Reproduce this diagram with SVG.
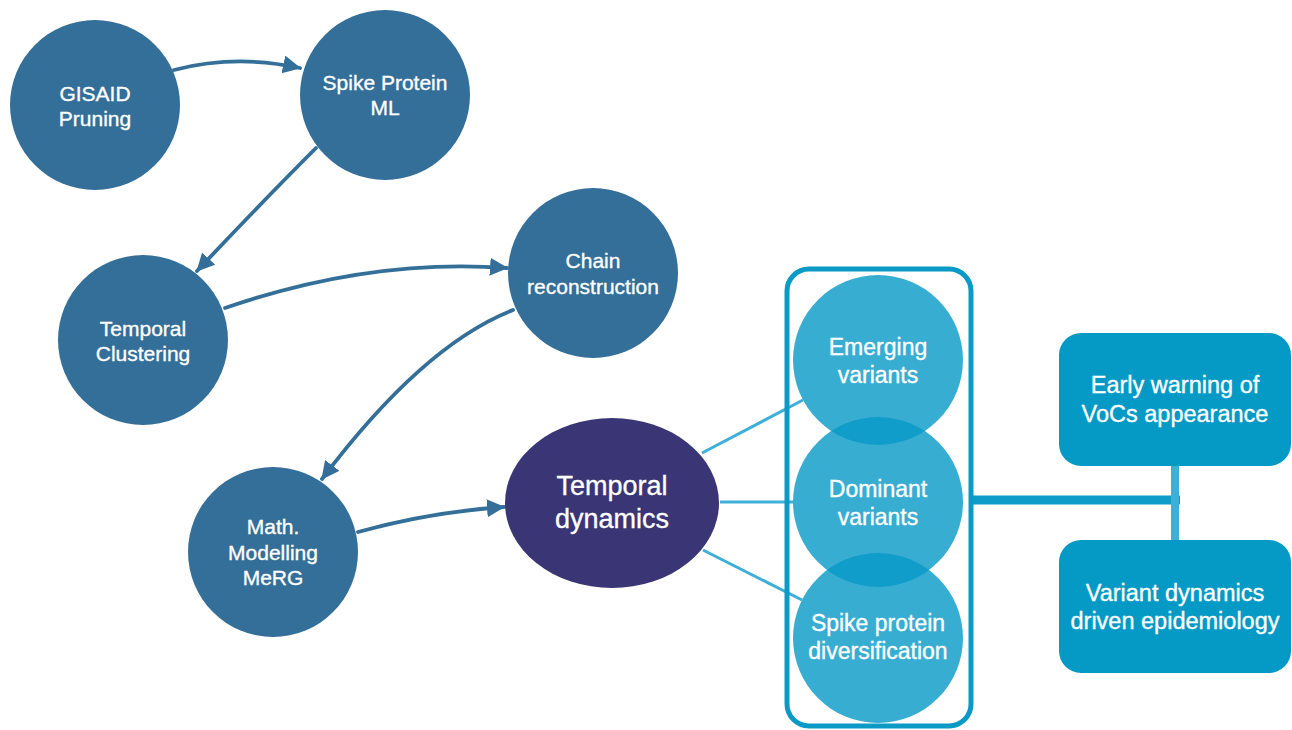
<svg xmlns="http://www.w3.org/2000/svg" width="1292" height="730" viewBox="0 0 1292 730">
<defs>
<style>
.n{fill:#336f98}
.t{fill:#fff;stroke:#fff;stroke-width:0.35;font-family:"Liberation Sans",Arial,sans-serif;text-anchor:middle}
.s21{font-size:21px}
.s23{font-size:23px}
.s24{font-size:23.5px}
.s27{font-size:27px}
.v{fill:#0698c7;fill-opacity:0.8}
.b{fill:#059ac5}
.a{fill:none;stroke:#336f98;stroke-width:3.8;stroke-linecap:round;marker-end:url(#ah)}
.l{fill:none;stroke:#3eafd7;stroke-width:3}
</style>
<marker id="ah" markerUnits="userSpaceOnUse" markerWidth="22" markerHeight="20" refX="17" refY="9" orient="auto">
<path d="M0,0 L18,9 L0,18 Z" fill="#336f98"/>
</marker>
</defs>
<rect width="1292" height="730" fill="#fff"/>
<g id="connectors">
<path class="a" d="M174,70 Q236,54 300,68"/>
<path class="a" d="M316,148 Q262,202 197,271"/>
<path class="a" d="M225,308 Q370,258 507,268"/>
<path class="a" d="M513,310 Q423,345 322,479"/>
<path class="a" d="M358,532 Q430,512 504,507"/>
<path class="l" d="M702,453 L803,400"/>
<path class="l" d="M720,502 L793,502"/>
<path class="l" d="M703,550 L802,600"/>
<path d="M973,500 H1180" stroke="#109cc8" stroke-width="9" fill="none"/>
<path d="M1175,466 V540" stroke="#3cb0d6" stroke-width="8" fill="none"/>
</g>
<g id="gisaid"><circle class="n" cx="95" cy="105" r="85"/>
<text class="t s21" x="95" y="101">GISAID</text><text class="t s21" x="95" y="126">Pruning</text></g>
<g id="spike-ml"><circle class="n" cx="385" cy="95" r="85"/>
<text class="t s21" x="385" y="90">Spike Protein</text><text class="t s21" x="385" y="115">ML</text></g>
<g id="temporal-clustering"><circle class="n" cx="143" cy="340" r="85"/>
<text class="t s21" x="143" y="336">Temporal</text><text class="t s21" x="143" y="361">Clustering</text></g>
<g id="chain"><circle class="n" cx="593" cy="273" r="85"/>
<text class="t s21" x="593" y="268">Chain</text><text class="t s21" x="593" y="294">reconstruction</text></g>
<g id="math"><circle class="n" cx="273" cy="552" r="85"/>
<text class="t s21" x="273" y="534">Math.</text><text class="t s21" x="273" y="560">Modelling</text><text class="t s21" x="273" y="585">MeRG</text></g>
<g id="temporal-dynamics"><ellipse cx="612" cy="503" rx="107" ry="85" fill="#3a3574"/>
<text class="t s27" x="612" y="495">Temporal</text><text class="t s27" x="612" y="528">dynamics</text></g>
<g id="variants">
<circle class="v" cx="878" cy="360" r="85"/>
<circle class="v" cx="878" cy="502" r="85"/>
<circle class="v" cx="878" cy="638" r="85"/>
<rect x="787" y="269" width="184" height="457" rx="22" fill="none" stroke="#0b9ac6" stroke-width="5"/>
</g>
<g id="emerging"><text class="t s23" x="878" y="355">Emerging</text><text class="t s23" x="878" y="383">variants</text></g>
<g id="dominant"><text class="t s23" x="878" y="497">Dominant</text><text class="t s23" x="878" y="525">variants</text></g>
<g id="spike-div"><text class="t s23" x="878" y="631">Spike protein</text><text class="t s23" x="878" y="659">diversification</text></g>
<g id="early-warning"><rect class="b" x="1059" y="333" width="232" height="133" rx="22"/>
<text class="t s24" x="1175" y="393">Early warning of</text><text class="t s24" x="1175" y="422">VoCs appearance</text></g>
<g id="variant-dynamics"><rect class="b" x="1059" y="540" width="232" height="133" rx="22"/>
<text class="t s24" x="1175" y="601">Variant dynamics</text><text class="t s24" x="1175" y="629">driven epidemiology</text></g>
</svg>
